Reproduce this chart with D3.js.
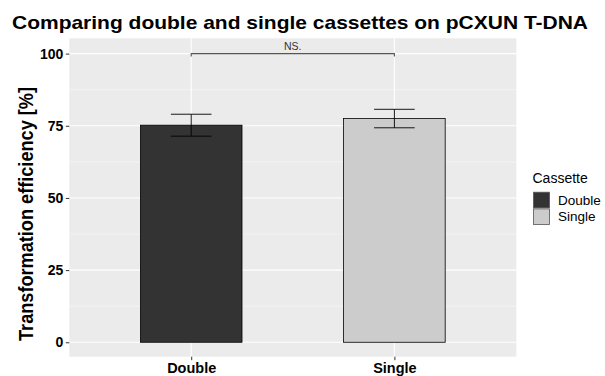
<!DOCTYPE html>
<html><head><meta charset="utf-8">
<script src="https://cdn.jsdelivr.net/npm/d3@7"></script>
<style>body{margin:0;background:#fff;} text{font-family:"Liberation Sans",Arial,sans-serif;}</style>
</head><body>
<svg id="chart" width="605" height="376"></svg>
<script>
const categories = ["Double", "Single"];
const means = [75.2, 77.5];
const errors = [3.8, 3.2];
const fills = ["#333333", "#CCCCCC"];
const yTicks = [0, 25, 50, 75, 100];
const yMinor = [12.5, 37.5, 62.5, 87.5];
const bracketY = 100;
const bracketLabel = "NS.";
const titleText = "Comparing double and single cassettes on pCXUN T-DNA";
const yTitle = "Transformation efficiency [%]";
const legendTitle = "Cassette";

const svg = d3.select("#chart");
const P = {l: 69.3, r: 516.3, t: 38.3, b: 356.7};

// ggplot discrete: expand 0.6 each side, 1 unit between centers
const unit = (P.r - P.l) / 2.2;
const xPos = d3.scalePoint().domain(categories).range([P.l + 0.6 * unit, P.l + 1.6 * unit]);
const cx = c => xPos(c);
const barW = 0.5 * unit;
const y = d3.scaleLinear().domain([-5, 105.3]).range([P.b, P.t]);

svg.append("rect").attr("x", P.l).attr("y", P.t).attr("width", P.r - P.l).attr("height", P.b - P.t).attr("fill", "#EBEBEB");
svg.selectAll(".minor").data(yMinor).enter().append("line")
  .attr("x1", P.l).attr("x2", P.r).attr("y1", d => y(d)).attr("y2", d => y(d))
  .attr("stroke", "#F7F7F7").attr("stroke-width", 0.6);
svg.selectAll(".major").data(yTicks).enter().append("line")
  .attr("x1", P.l).attr("x2", P.r).attr("y1", d => y(d)).attr("y2", d => y(d))
  .attr("stroke", "#FFFFFF").attr("stroke-width", 1.1);
svg.selectAll(".vmajor").data(categories).enter().append("line")
  .attr("x1", d => cx(d)).attr("x2", d => cx(d)).attr("y1", P.t).attr("y2", P.b)
  .attr("stroke", "#FFFFFF").attr("stroke-width", 1.1);

// bars
svg.selectAll(".bar").data(categories).enter().append("rect")
  .attr("x", d => cx(d) - barW / 2).attr("width", barW)
  .attr("y", (d, i) => y(means[i])).attr("height", (d, i) => y(0) - y(means[i]))
  .attr("fill", (d, i) => fills[i]).attr("stroke", "#000").attr("stroke-width", 0.8);

// error bars
const capW = 0.1 * unit;
categories.forEach((c, i) => {
  const g = svg.append("g").attr("stroke", "#000").attr("stroke-width", 0.9);
  g.append("line").attr("x1", cx(c)).attr("x2", cx(c)).attr("y1", y(means[i] + errors[i])).attr("y2", y(means[i] - errors[i]));
  g.append("line").attr("x1", cx(c) - capW).attr("x2", cx(c) + capW).attr("y1", y(means[i] + errors[i])).attr("y2", y(means[i] + errors[i]));
  g.append("line").attr("x1", cx(c) - capW).attr("x2", cx(c) + capW).attr("y1", y(means[i] - errors[i])).attr("y2", y(means[i] - errors[i]));
});

// significance bracket
const bx1 = cx(categories[0]), bx2 = cx(categories[1]), by = y(bracketY);
svg.append("path").attr("d", `M${bx1},${by + 3}V${by}H${bx2}V${by + 3}`)
  .attr("fill", "none").attr("stroke", "#555555").attr("stroke-width", 1.1);
svg.append("text").attr("x", (bx1 + bx2) / 2).attr("y", by - 3.5).attr("text-anchor", "middle")
  .attr("font-size", 10.5).attr("fill", "#333").text(bracketLabel);

// y axis
const yAxis = svg.append("g").attr("transform", `translate(${P.l},0)`)
  .call(d3.axisLeft(y).tickValues(yTicks).tickSize(3.5).tickPadding(2.5).tickFormat(d3.format("d")));
yAxis.select(".domain").remove();
yAxis.selectAll("line").attr("stroke", "#333333");
yAxis.selectAll("text").attr("font-size", 14).attr("font-weight", "bold").attr("fill", "#000")
  .attr("font-family", "Liberation Sans, Arial, sans-serif");

// x axis
const xAxis = svg.append("g").attr("transform", `translate(0,${P.b})`)
  .call(d3.axisBottom(xPos).tickSize(3.5).tickPadding(3));
xAxis.select(".domain").remove();
xAxis.selectAll("line").attr("stroke", "#333333");
xAxis.selectAll("text").attr("font-size", 14.5).attr("font-weight", "bold").attr("fill", "#000")
  .attr("font-family", "Liberation Sans, Arial, sans-serif");

// titles
svg.append("text").attr("x", 12).attr("y", 29.3).attr("font-size", 19).attr("font-weight", "bold")
  .attr("textLength", 576).attr("lengthAdjust", "spacingAndGlyphs").text(titleText);
svg.append("text").attr("transform", `translate(33,214) rotate(-90)`).attr("text-anchor", "middle")
  .attr("font-size", 19.5).attr("font-weight", "bold")
  .attr("textLength", 254).attr("lengthAdjust", "spacingAndGlyphs").text(yTitle);

// legend
const lg = svg.append("g");
lg.append("text").attr("x", 532.5).attr("y", 182.7).attr("font-size", 14).text(legendTitle);
categories.forEach((c, i) => {
  const ky = 191.7 + i * 16.7;
  lg.append("rect").attr("x", 533.5).attr("y", ky + 0.5).attr("width", 16).attr("height", 15.7)
    .attr("fill", fills[i]).attr("stroke", "#555").attr("stroke-width", 0.8);
  lg.append("text").attr("x", 558).attr("y", ky + 8.3).attr("dy", "0.35em").attr("font-size", 13.5).text(c);
});
</script>
</body></html>
